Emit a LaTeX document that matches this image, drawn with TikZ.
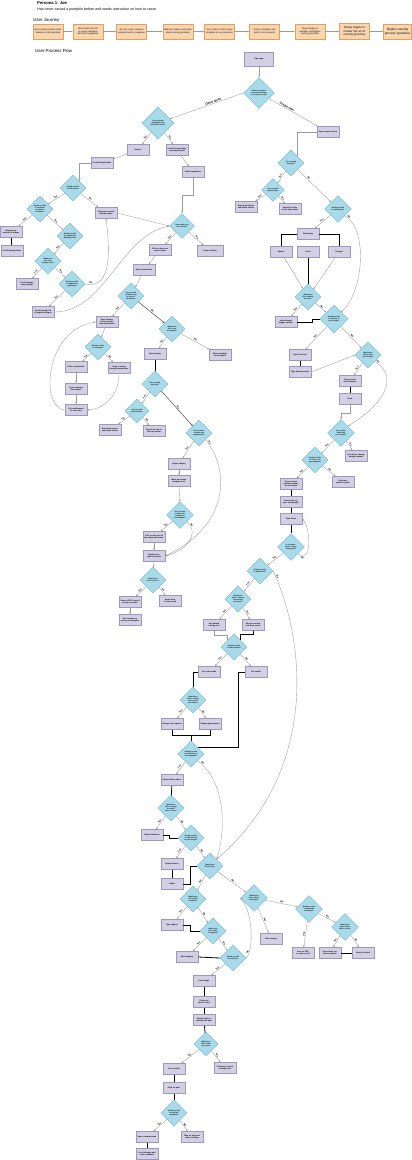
\documentclass[tikz,border=0pt]{standalone}
\usepackage{fontspec}
\setmainfont{Liberation Sans}
\usetikzlibrary{shapes.geometric,arrows.meta}

\definecolor{jfill}{HTML}{FAD6B0}
\definecolor{jdraw}{HTML}{E29F62}
\definecolor{pfill}{HTML}{D3CFE4}
\definecolor{pdraw}{HTML}{9C97BB}
\definecolor{dfill}{HTML}{A9DAEA}
\definecolor{dline}{HTML}{6DB3CF}
\definecolor{lgray}{HTML}{9A9A9A}

\begin{document}
\begin{tikzpicture}[x=1pt,y=-1pt,
  jbox/.style={draw=jdraw,fill=jfill,line width=0.6pt,minimum width=30pt,minimum height=15pt,
    inner sep=0.5pt,text width=28pt,align=center,font=\fontsize{2.3}{2.8}\selectfont},
  pbox/.style={draw=pdraw,fill=pfill,line width=0.6pt,minimum width=22pt,minimum height=11pt,
    inner sep=0.5pt,text width=20pt,align=center,font=\fontsize{1.9}{2.3}\selectfont\bfseries},
  dbox/.style={diamond,aspect=1,draw=dline,fill=dfill,line width=0.4pt,minimum width=26pt,
    minimum height=26pt,inner sep=0pt,text width=14pt,align=center,font=\fontsize{1.7}{2.05}\selectfont\bfseries},
  garr/.style={draw=lgray,line width=0.35pt,-{Stealth[length=2.2pt,width=1.8pt]}},
  darr/.style={draw=black!75,line width=0.45pt,-{Stealth[length=2.2pt,width=1.8pt]}},
  conn/.style={draw=black,line width=0.8pt},
  lbl/.style={font=\fontsize{2.4}{2.6}\selectfont\bfseries,inner sep=0.6pt},
  hdr/.style={anchor=west,inner sep=0pt}]

\useasboundingbox (0,0) rectangle (412,1160);

%persona
\node[hdr,font=\fontsize{4.2}{4.2}\selectfont\bfseries] (persona) at (37,3.5) {Persona 1- Joe};
\node[hdr,font=\fontsize{3.6}{3.6}\selectfont] (bio) at (37,9.5) {Has never carved a pumpkin before and needs instruction on how to carve};

%user journey
\node[hdr,font=\fontsize{4.4}{4.4}\selectfont] (journey) at (33,20) {User Journey};
\node[jbox] (j1) at (48,31.5) {Has recently moved (from Alaska to US) (positive)};
\node[jbox] (j2) at (88,31.5) {Has friends over for to carve pumpkins with them (negative)};
\node[jbox] (j3) at (131.5,31.5) {Joe has never carved a pumpkin before (negative)};
\node[jbox] (j4) at (178,31.5) {Watches videos and reads about carving (positive)};
\node[jbox] (j5) at (219.5,31.5) {Joe is able to find a easy template to use (positive)};
\node[jbox] (j6) at (264.5,31.5) {Finds a template and prints it out (neutral)};
\node[jbox] (j7) at (310,31.5) {Tapes design to pumpkin and begins carving (positive)};
\node[jbox,minimum height=16pt,font=\fontsize{2.9}{3.3}\selectfont] (j8) at (354.5,31.5) {Slowly begins to master the art of carving (positive)};
\node[jbox,minimum width=28pt,text width=26pt,font=\fontsize{3.2}{3.6}\selectfont] (j9) at (397.5,31.5) {Begins carving process (positive)};
\foreach \a/\b in {j1/j2,j2/j3,j3/j4,j4/j5,j5/j6,j6/j7,j7/j8,j8/j9}
  \draw[garr] (\a) -- (\b);

%process flow
\node[hdr,font=\fontsize{4.4}{4.4}\selectfont] (flow) at (35,51) {User Process Flow};

%start
\node[pbox,minimum width=29pt,minimum height=14pt,text width=26pt] (start) at (259,59) {Open app};
\node[dbox,minimum width=31pt,minimum height=31pt,text width=17pt] (d1) at (259,93) {Would you like to search other ideas or create your own?};
\draw[garr] (start) -- (d1);

%other ideas branch
\node[dbox,minimum width=32pt,minimum height=32pt,text width=17pt] (d2) at (158,123) {Do you know what shape you would like to do?};
\draw[garr] (d1.west) -- (d2) node[lbl,pos=0.4,sloped,above,font=\fontsize{3}{3.2}\selectfont\bfseries]{Other Ideas};
\node[pbox] (search) at (138,150) {Search};
\node[pbox] (scrollideas) at (177,150) {Scroll through ideas / carving tutorials};
\draw[garr] (d2) -- (search) node[lbl,pos=0.5,sloped,above]{Yes};
\draw[garr] (d2) -- (scrollideas) node[lbl,pos=0.5,sloped,above]{No};
\node[pbox] (scroll2) at (102,163) {Scroll through ideas};
\draw[garr] (search) -- (scroll2);
\node[pbox] (inspire) at (193,172) {Select inspiration};
\draw[garr] (scrollideas) -- (inspire);

%filter
\node[dbox] (dfilter) at (73,188) {Would you like to filter ideas?};
\draw[garr] (scroll2.west) -| (dfilter.north east);
\node[dbox] (dorg) at (40,209) {Would you like to organize by number of shapes?};
\node[pbox] (contscroll) at (106,213) {Continue to scroll through ideas};
\draw[garr] (dfilter) -- (dorg) node[lbl,pos=0.5,sloped,above]{Yes};
\draw[garr] (dfilter) -- (contscroll) node[lbl,pos=0.5,sloped,above]{No};
\node[pbox] (organize) at (11,232) {Organize by amount of shapes};
\node[pbox] (scrollsh) at (12,251) {Scroll through ideas};
\draw[garr] (dorg) -- (organize) node[lbl,pos=0.5,sloped,above]{Yes};
\draw[conn] (organize) -- (scrollsh);
\node[dbox] (ddiff) at (70,236) {Would you like to organize by difficulty level?};
\draw[garr] (dorg) -- (ddiff) node[lbl,pos=0.5,sloped,above]{No};
\node[dbox] (deasy) at (48,261) {Would you like easy designs only?};
\draw[garr] (ddiff) -- (deasy) node[lbl,pos=0.5,sloped,above]{Yes};
\node[pbox] (easy) at (27,284) {Scroll through easy designs};
\draw[garr] (deasy) -- (easy) node[lbl,pos=0.5,sloped,above]{Yes};
\node[dbox] (dpop) at (72,284) {Would you like to organize by popularity?};
\draw[garr] (deasy) -- (dpop) node[lbl,pos=0.5,sloped,above]{No};
\node[pbox] (popular) at (43,312) {Scroll through list of popular designs};
\draw[garr] (dpop) -- (popular) node[lbl,pos=0.5,sloped,above]{Yes};
\draw[garr] (dpop.east) .. controls (112,290) and (110,250) .. (contscroll.south) node[lbl,pos=0.08,sloped,above]{No};

%how to start
\node[dbox,minimum width=25pt,minimum height=25pt] (dstart) at (182,226) {How would you like to start?};
\draw[garr] (inspire.south) -- ++(0,17) -| (dstart.north);
\draw[garr] (contscroll.east) -- (dstart.west);
\draw[garr] (popular.east) .. controls (105,312) and (120,236) .. (dstart.west);
\node[pbox] (clickhow) at (160,250) {Click on how you want to start};
\node[pbox,minimum width=26pt,text width=24pt] (keepscroll) at (210,251) {Keep scrolling};
\draw[garr] (dstart) -- (clickhow) node[lbl,pos=0.5,sloped,above]{Yes};
\draw[garr] (dstart) -- (keepscroll) node[lbl,pos=0.5,sloped,above]{No};
\node[pbox] (openinst) at (144,270) {Open instructions};
\draw[garr] (clickhow) -- (openinst);
\node[dbox] (dwant) at (131,296) {Do you want to follow step by step instructions?};
\draw[garr] (openinst) -- (dwant);

%step by step
\node[pbox] (stepby) at (107,322) {Start carving: follow step by step instructions};
\draw[garr] (dwant) -- (stepby) node[lbl,pos=0.5,sloped,above]{Yes};
\node[dbox] (dremind) at (98,347) {Would you like to view tips?};
\draw[garr] (stepby) -- (dremind);
\node[pbox] (tips) at (76,367) {Click on tips/tricks};
\node[pbox] (keepinst) at (119,368) {Keep scrolling through instructions};
\draw[garr] (dremind) -- (tips) node[lbl,pos=0.5,sloped,above]{Yes};
\draw[garr] (dremind) -- (keepinst) node[lbl,pos=0.5,sloped,above]{No};
\node[pbox] (typecomment) at (76,389) {Type comment and submit};
\draw[garr] (tips) -- (typecomment);
\node[pbox] (goinst) at (76,410) {Go back/forward to next step};
\draw[garr] (typecomment) -- (goinst);
\draw[garr] (goinst.west) .. controls (40,408) and (44,330) .. (stepby.west);
\draw[garr] (keepinst.south) .. controls (119,396) and (104,409) .. (goinst.east);

%template
\node[dbox] (dtemplate) at (172,329) {Would you like to use a template?};
\draw[darr] (dwant) -- (dtemplate) node[lbl,pos=0.5,sloped,above]{No};
\node[pbox] (opendesign) at (155,354) {Open Design};
\node[pbox] (selecttpl) at (220,355) {Select template for the guide};
\draw[garr] (dtemplate) -- (opendesign) node[lbl,pos=0.5,sloped,above]{Yes};
\draw[garr] (dtemplate) -- (selecttpl) node[lbl,pos=0.5,sloped,above]{No};
\node[dbox] (dhelp2) at (155,384) {Do you need any help?};
\draw[conn] (opendesign) -- (dhelp2);
\node[dbox,minimum width=24pt,minimum height=24pt] (dhelpcarve) at (137,411) {Do you need help carving?};
\draw[garr] (dhelp2) -- (dhelpcarve) node[lbl,pos=0.5,sloped,above]{Yes};
\node[pbox] (videos) at (110,430) {Read instructions and watch videos};
\node[pbox] (tutorials) at (154,431) {Search for tips in the help center};
\draw[garr] (dhelpcarve) -- (videos) node[lbl,pos=0.5,sloped,above]{Yes};
\draw[garr] (dhelpcarve) -- (tutorials) node[lbl,pos=0.5,sloped,above]{No};

%adjustments
\node[dbox] (dadjust) at (199,433) {Do you have to make any adjustments?};
\draw[darr] (dhelp2) -- (dadjust) node[lbl,pos=0.5,sloped,above]{No};
\node[pbox] (adjustshape) at (179,464) {Adjust shapes};
\draw[garr] (dadjust) -- (adjustshape) node[lbl,pos=0.5,sloped,above]{Yes};
\node[pbox] (resize) at (179,481) {Move and resize template to fit};
\draw[garr] (adjustshape) -- (resize);
\node[dbox,minimum width=27pt,minimum height=27pt] (dchange) at (180,515) {Do you want to make any changes to the template?};
\draw[garr] (resize) -- (dchange);
\node[pbox] (clickpart) at (154,537) {Click on the part of the shape and resize};
\draw[garr] (dchange) -- (clickpart) node[lbl,pos=0.5,sloped,above]{Yes};
\node[pbox] (finalize) at (154,556) {Finalize template and print};
\draw[garr] (clickpart) -- (finalize);
\draw[garr] (dchange.south east) .. controls (202,536) and (182,552) .. (finalize.east) node[lbl,pos=0.1,sloped,above]{No};
\draw[garr] (dadjust.south east) .. controls (230,470) and (230,525) .. (finalize.east) node[lbl,pos=0.04,sloped,above]{No};
\node[dbox] (drescale) at (153,580) {Would you like to print it?};
\draw[garr] (finalize) -- (drescale);
\node[pbox] (savepdf) at (130,602) {Save as PDF to print and go to printer};
\node[pbox] (scrollback) at (170,601) {Scroll back to home feed};
\draw[garr] (drescale) -- (savepdf) node[lbl,pos=0.5,sloped,above]{Yes};
\draw[garr] (drescale) -- (scrollback) node[lbl,pos=0.5,sloped,above]{No};
\node[pbox] (usetpl) at (130,620) {Use template to carve your pumpkin};
\draw[garr] (savepdf) -- (usetpl);

%create own branch
\node[pbox] (create) at (328,132) {Open create section};
\draw[garr] (d1) -- (create) node[lbl,pos=0.35,sloped,above,font=\fontsize{3}{3.2}\selectfont\bfseries]{Create own};
\node[dbox] (dhelp) at (291,163) {Do you need any help?};
\draw[garr] (create.west) -| (dhelp.north east);
\node[dbox,minimum width=23pt,minimum height=23pt,text width=12pt] (dmore) at (273,190) {Do you need help carving?};
\draw[garr] (dhelp) -- (dmore) node[lbl,pos=0.5,sloped,above]{Yes};
\node[pbox] (readinst) at (246,207) {Read instructions and watch videos};
\node[pbox] (searchhelp) at (290,209) {Search for help in the help center};
\draw[garr] (dmore) -- (readinst) node[lbl,pos=0.5,sloped,above]{Yes};
\draw[garr] (dmore) -- (searchhelp) node[lbl,pos=0.5,sloped,above]{No};

%shapes
\node[dbox,minimum width=27pt,minimum height=27pt] (dshape) at (338,209) {Would you like to add shapes?};
\draw[garr] (dhelp) -- (dshape) node[lbl,pos=0.3,sloped,above]{No};
\node[pbox] (addshape) at (308,234) {Add shape};
\draw[garr] (dshape) -- (addshape) node[lbl,pos=0.5,sloped,above]{Yes};
\node[pbox] (square) at (281,252) {Square};
\node[pbox] (circle) at (308,252) {Circle};
\node[pbox] (triangle) at (339,252) {Triangle};
\draw[conn] (addshape.west) -| (square.north);
\draw[conn] (addshape.east) -| (triangle.north);
\node[dbox] (dsize) at (308,297) {Would you like to adjust the size?};
\draw[conn] (circle) -- (dsize);
\draw[garr] (square) -- (dsize);
\draw[garr] (triangle) -- (dsize);
\node[pbox] (bigger) at (286,322) {make shapes bigger/ smaller};
\draw[garr] (dsize) -- (bigger) node[lbl,pos=0.5,sloped,above]{Yes};

%text
\node[dbox,minimum width=28pt,minimum height=28pt,text width=15pt] (dtext) at (334,319) {Would you like to add text to your design?};
\draw[garr] (dsize) -- (dtext) node[lbl,pos=0.5,sloped,above]{No};
\draw[conn] (bigger.east) -- ++(15,0) |- (dtext.west);
\draw[garr] (dshape.south east) .. controls (368,228) and (364,292) .. (dtext.north east) node[lbl,pos=0.05,sloped,above]{No};
\node[pbox] (opentext) at (300,355) {Open Text tool};
\draw[garr] (dtext) -- (opentext) node[lbl,pos=0.5,sloped,above]{Yes};
\node[pbox] (typetext) at (300,372) {Type and place text};
\draw[conn] (opentext) -- (typetext);

%draw
\node[dbox] (ddraw) at (368,355) {Would you like to draw your design?};
\draw[garr] (dtext) -- (ddraw) node[lbl,pos=0.5,sloped,above]{No};
\draw[garr] (typetext.east) -- (ddraw.west);
\node[pbox] (color) at (350,381) {Choose color and thickness};
\draw[garr] (ddraw) -- (color) node[lbl,pos=0.5,sloped,above]{Yes};
\node[pbox] (draw) at (350,399) {Draw};
\draw[conn] (color) -- (draw);

%finish
\node[dbox,minimum width=27pt,minimum height=27pt] (dfinish) at (341,433) {Are you finished with your design?};
\draw[garr] (draw.south) -- ++(0,8) -| (dfinish.north);
\draw[garr] (ddraw.south east) .. controls (394,372) and (394,398) .. (dfinish.north east) node[lbl,pos=0.05,sloped,above]{No};
\node[pbox] (goback) at (356,456) {Go back to change design element};
\draw[garr] (dfinish) -- (goback) node[lbl,pos=0.5,sloped,above]{No};
\node[dbox] (dprint) at (315,460) {Would you like to carve it on your pumpkin?};
\draw[garr] (dfinish) -- (dprint) node[lbl,pos=0.5,sloped,above]{Yes};
\node[pbox] (printtpl) at (343,482) {Print template for guide};
\node[pbox] (camera) at (291,484) {Open camera and place pumpkin on screen};
\draw[garr] (dprint) -- (camera) node[lbl,pos=0.5,sloped,above]{Yes};
\draw[garr] (dprint) -- (printtpl) node[lbl,pos=0.5,sloped,above]{No};
\node[pbox] (appear) at (291,502) {Design will appear on pumpkin};
\node[pbox] (startcarve) at (291,519) {Start Carve};
\draw[conn] (camera) -- (appear);
\draw[conn] (appear) -- (startcarve);

%placement
\node[dbox,minimum width=27pt,minimum height=27pt] (dplace) at (291,547) {Is the placement of everything good?};
\draw[conn] (startcarve) -- (dplace);
\draw[garr] (dplace.south east) .. controls (313,566) and (310,526) .. (startcarve.east) node[lbl,pos=0.12,sloped,below]{No};
\node[dbox] (deffect) at (260,571) {Would you like to add effects?};
\draw[garr] (dplace) -- (deffect) node[lbl,pos=0.5,sloped,above]{Yes};

%carving tool
\node[dbox] (dtool) at (238,599) {Would you like to change the carving tool used?};
\draw[garr] (deffect) -- (dtool) node[lbl,pos=0.5,sloped,above]{Yes};
\node[pbox] (usetool) at (214,625) {Use default carving tool};
\node[pbox] (choosetool) at (253,625) {Choose carving tool from menu};
\draw[garr] (dtool) -- (usetool) node[lbl,pos=0.5,sloped,above]{Yes};
\draw[garr] (dtool) -- (choosetool) node[lbl,pos=0.5,sloped,above]{No};

%candle
\node[dbox] (dcandle) at (234,647) {Would you like to add a candle?};
\draw[garr] (usetool.south) -- ++(0,4) -| (dcandle.north west);
\draw[conn] (choosetool.south) -- ++(0,4) -| (dcandle.north east);
\node[pbox] (yescandle) at (209,672) {Yes, add candle};
\node[pbox] (nocandle) at (256,672) {No candle};
\draw[garr] (dcandle) -- (yescandle) node[lbl,pos=0.5,sloped,above]{Yes};
\draw[garr] (dcandle) -- (nocandle) node[lbl,pos=0.5,sloped,above]{No};
\node[dbox] (dcolor) at (193,700) {Would you like to change the color of the candle?};
\draw[conn] (yescandle.west) -| ++(-4,10) -| (dcolor.north);
\node[pbox] (changecolor) at (172,724) {Change color options};
\node[pbox] (changepattern) at (210,724) {Change glow pattern};
\draw[garr] (dcolor) -- (changecolor) node[lbl,pos=0.5,sloped,above]{Yes};
\draw[garr] (dcolor) -- (changepattern) node[lbl,pos=0.5,sloped,above]{No};

%filter
\node[dbox] (dfilt) at (191,754) {Would you like to add a filter to your pumpkin?};
\draw[conn] (changecolor.south) -- ++(0,6) -| (dfilt.north);
\draw[conn] (changepattern.south) -- ++(0,6) -| (dfilt.north);
\draw[conn] (nocandle.west) -- ++(-6,0) |- (dfilt.north east);
\node[pbox] (filter) at (172,780) {Choose filter options};
\draw[garr] (dfilt) -- (filter) node[lbl,pos=0.5,sloped,above]{Yes};
\node[dbox] (dthick) at (171,808) {Would you like to change the thickness of cuts?};
\draw[conn] (filter) -- (dthick);
\node[pbox] (thick) at (152,835) {Adjust thickness};
\draw[garr] (dthick) -- (thick) node[lbl,pos=0.5,sloped,above]{Yes};
\node[dbox] (dsticker) at (191,838) {Would you like to add stickers to your design?};
\draw[garr] (dthick) -- (dsticker) node[lbl,pos=0.5,sloped,above]{No};
\draw[conn] (thick.east) -- ++(6,0) |- (dsticker.west);
\node[pbox] (stickers) at (172,864) {select stickers};
\node[pbox] (adjust) at (172,884) {Adjust};
\draw[garr] (dsticker) -- (stickers) node[lbl,pos=0.5,sloped,above]{Yes};
\draw[conn] (stickers) -- (adjust);

%post
\node[dbox] (dpost) at (210,866) {Would you like to post?};
\draw[garr] (dsticker) -- (dpost) node[lbl,pos=0.5,sloped,above]{No};
\draw[conn] (adjust.east) -- ++(7,0) |- (dpost.west);
\draw[garr] (dfilt.south east) .. controls (226,782) and (226,830) .. (dpost.north east) node[lbl,pos=0.05,sloped,above]{No};
\draw[garr] (deffect.east) .. controls (305,640) and (320,770) .. (dpost.north east) node[lbl,pos=0.03,sloped,above]{No};
\node[dbox] (dcaption) at (193,899) {Would you like to add a caption?};
\draw[garr] (dpost) -- (dcaption) node[lbl,pos=0.5,sloped,above]{Yes};
\node[pbox] (caption) at (172,925) {Type caption};
\draw[garr] (dcaption) -- (caption) node[lbl,pos=0.5,sloped,above]{Yes};
\node[dbox] (dcat) at (213,931) {Would you like to add a category?};
\draw[garr] (dcaption) -- (dcat) node[lbl,pos=0.5,sloped,above]{No};
\draw[conn] (caption.east) -- ++(7,0) |- (dcat.west);
\node[pbox] (category) at (187,957) {Add category};
\draw[garr] (dcat) -- (category) node[lbl,pos=0.5,sloped,above]{Yes};
\node[dbox] (dstill) at (233,958) {Would you still like to post?};
\draw[garr] (dcat) -- (dstill) node[lbl,pos=0.5,sloped,above]{No};
\draw[conn] (category.east) -- (dstill.west);

%share
\node[dbox,minimum width=27pt,minimum height=27pt] (dshare) at (254,898) {Would you like to share the image?};
\draw[garr] (dpost) -- (dshare) node[lbl,pos=0.5,sloped,above]{No};
\draw[garr] (dstill.east) .. controls (254,950) and (253,912) .. (dshare.west) node[lbl,pos=0.15,sloped,above]{No};
\node[pbox] (shareimg) at (271,939) {Share image};
\draw[garr] (dshare) -- (shareimg) node[lbl,pos=0.5,sloped,above]{Yes};
\node[dbox,minimum width=27pt,minimum height=27pt] (ddownload) at (309,909) {Would you like to download a template?};
\draw[garr] (dshare) -- (ddownload) node[lbl,pos=0.5,sloped,above]{No};
\node[pbox] (savepdf2) at (303,953) {Save as PDF or send to self};
\draw[garr] (ddownload) -- (savepdf2) node[lbl,pos=0.5,sloped,above]{Yes};
\node[dbox,minimum width=27pt,minimum height=27pt] (dfriend) at (345,927) {Would you like to share with a friend?};
\draw[garr] (ddownload) -- (dfriend) node[lbl,pos=0.5,sloped,above]{No};
\node[pbox] (openshare) at (330,953) {Open share options in phone};
\node[pbox] (email) at (363,953) {Email to friend};
\draw[garr] (dfriend) -- (openshare) node[lbl,pos=0.5,sloped,above]{Yes};
\draw[garr] (dfriend) -- (email) node[lbl,pos=0.5,sloped,above]{No};
\draw[conn] (openshare) -- (email);

%posting
\node[pbox] (postdesign) at (204,981) {post design};
\draw[garr] (dstill) -- (postdesign) node[lbl,pos=0.5,sloped,above]{Yes};
\node[pbox] (postdone) at (204,1002) {Click post and it's done};
\node[pbox] (begincom) at (204,1020) {People begin to comment on post};
\draw[conn] (postdesign) -- (postdone);
\draw[conn] (postdone) -- (begincom);
\node[dbox,minimum width=24pt,minimum height=24pt,text width=13pt] (dview) at (206,1044) {Would you like to view your post?};
\draw[conn] (begincom) -- (dview);
\node[pbox] (profile) at (174,1069) {Go to profile};
\node[pbox] (continue) at (225,1068) {Continue to scroll through feed};
\draw[garr] (dview) -- (profile) node[lbl,pos=0.5,sloped,above]{Yes};
\draw[garr] (dview) -- (continue) node[lbl,pos=0.5,sloped,above]{No};
\node[pbox] (clickpost) at (174,1088) {Click on post};
\draw[conn] (profile) -- (clickpost);
\node[dbox] (dcomment) at (174,1113) {Would you like to read the comments?};
\draw[conn] (clickpost) -- (dcomment);
\node[pbox] (opencomment) at (147,1137) {Open comment area};
\node[pbox] (stay) at (192,1137) {Stay on post and keep scrolling};
\draw[garr] (dcomment) -- (opencomment) node[lbl,pos=0.5,sloped,above]{Yes};
\draw[garr] (dcomment) -- (stay) node[lbl,pos=0.5,sloped,above]{No};
\node[pbox] (scrollcom) at (147,1154) {Scroll through and read comments};
\draw[conn] (opencomment) -- (scrollcom);
\end{tikzpicture}
\end{document}
